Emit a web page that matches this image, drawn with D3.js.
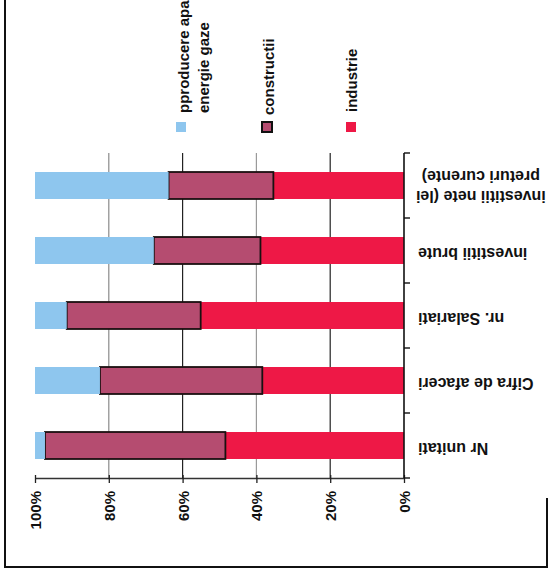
<!DOCTYPE html>
<html>
<head>
<meta charset="utf-8">
<script src="https://cdn.jsdelivr.net/npm/d3@7"></script>
<style>
  html, body { margin: 0; padding: 0; background: #fff; }
  svg { display: block; font-family: "Liberation Sans", Arial, sans-serif; font-weight: bold; }
</style>
</head>
<body>
<svg id="chart" width="553" height="573"></svg>
<script>
// ---- data ----
const categories = ["Nr unitati", "Cifra de afaceri", "nr. Salariati", "investitii brute", "investitii nete (lei|preturi curente)"];
const industrie   = [48.4, 38.4, 55.1, 38.9, 35.4];
const constructii = [48.9, 44.0, 36.3, 28.9, 28.4];
const apaEnergie  = [2.7, 17.6, 8.6, 32.2, 36.2];
const seriesNames = ["industrie", "constructii", "pproducere apa|energie gaze"];
const tickValues  = [0, 20, 40, 60, 80, 100];
const tickLabels  = ["0%", "20%", "40%", "60%", "80%", "100%"];

const colors = { industrie: "#ee1846", constructii: "#b54c70", apa: "#8ec6ee" };

const svg = d3.select("#chart");
svg.append("rect").attr("width", 553).attr("height", 573).attr("fill", "#fff");

// rows of the table for stacking
const rows = categories.map((c, i) => ({
  cat: c, industrie: industrie[i], constructii: constructii[i], apa: apaEnergie[i]
}));
const keys = ["industrie", "constructii", "apa"];
const stacked = d3.stack().keys(keys)(rows);

// value scale: 0% on the right, 100% on the left (rotated chart)
const x = d3.scaleLinear().domain([0, 100]).range([404, 35]);
// category scale: top to bottom is reversed category order
const y = d3.scaleBand().domain(categories.slice().reverse()).range([153, 478])
  .paddingInner(0.585).paddingOuter(0.2925);

// gridlines
const gridColors = { 20: "#222", 40: "#9a9a9a", 60: "#222", 80: "#8a8a8a" };
svg.append("g").selectAll("line").data([20, 40, 60, 80]).join("line")
  .attr("x1", d => x(d)).attr("x2", d => x(d))
  .attr("y1", 153).attr("y2", 478)
  .attr("stroke", d => gridColors[d]).attr("stroke-width", 1.2);

// bars
const bars = svg.append("g");
stacked.forEach(s => {
  bars.append("g").selectAll("rect").data(s).join("rect")
    .attr("x", d => x(d[1]))
    .attr("width", d => x(d[0]) - x(d[1]))
    .attr("y", d => y(d.data.cat))
    .attr("height", y.bandwidth())
    .attr("fill", colors[s.key])
    .attr("stroke", s.key === "constructii" ? "#1a1010" : "none")
    .attr("stroke-width", s.key === "constructii" ? 1.8 : 0);
});

// value axis (bottom)
const xAxis = d3.axisBottom(x).tickValues(tickValues)
  .tickFormat((d, i) => tickLabels[i]).tickSizeInner(5).tickSizeOuter(0);
const gx = svg.append("g").attr("transform", "translate(0,478)").call(xAxis);
gx.select(".domain").attr("stroke", "#333").attr("stroke-width", 1.5);
gx.selectAll(".tick line").attr("y1", -3).attr("y2", 5).attr("stroke", "#222").attr("stroke-width", 1.3);
gx.selectAll(".tick text")
  .attr("transform", "rotate(-90)")
  .attr("x", -13).attr("y", 0).attr("dy", "0.36em")
  .style("text-anchor", "end")
  .style("font-size", "15px").style("font-weight", "bold")
  .style("font-family", "'Liberation Sans', Arial, sans-serif")
  .attr("fill", "#111");

// category axis (right side)
const cAxisX = 404;
svg.append("line").attr("x1", cAxisX).attr("x2", cAxisX)
  .attr("y1", y.range()[0]).attr("y2", y.range()[1])
  .attr("stroke", "#111").attr("stroke-width", 1.6);
const bounds = d3.range(categories.length + 1).map(i => y.range()[0] + i * y.step());
svg.append("g").selectAll("line").data(bounds).join("line")
  .attr("x1", cAxisX).attr("x2", cAxisX + 6)
  .attr("y1", d => d).attr("y2", d => d)
  .attr("stroke", "#111").attr("stroke-width", 1.4);

// category labels (upside-down)
const labG = svg.append("g").style("font-size", "16px").attr("fill", "#111");
categories.forEach(c => {
  const lines = c.split("|");
  const cy = y(c) + y.bandwidth() / 2;
  if (lines.length === 1) {
    labG.append("text")
      .attr("transform", `translate(418,${cy - 3}) rotate(180)`)
      .attr("text-anchor", "end")
      .text(lines[0]);
  } else {
    const g = labG.append("g");
    const t = lines.map((ln, j) => g.append("text")
      .attr("text-anchor", "middle")
      .text(ln));
    const maxW = d3.max(t, tt => tt.node().getComputedTextLength());
    const cx = 416 + maxW / 2;
    t.forEach((tt, j) => {
      tt.attr("transform", `translate(${cx},${cy + 5.5 - j * 20}) rotate(180)`);
    });
  }
});

// legend (rotated -90)
const legendItems = [
  { name: seriesNames[2], color: colors.apa, sx: 181, base: 189, start: 113, border: false },
  { name: seriesNames[1], color: colors.constructii, sx: 267, base: 274, start: 115, border: true },
  { name: seriesNames[0], color: colors.industrie, sx: 351, base: 357, start: 112, border: false }
];
const lg = svg.append("g").style("font-size", "15px").attr("fill", "#111");
legendItems.forEach(it => {
  lg.append("rect")
    .attr("x", it.sx - 5).attr("y", 122).attr("width", 10).attr("height", 10)
    .attr("fill", it.color)
    .attr("stroke", it.border ? "#111" : "none").attr("stroke-width", it.border ? 2 : 0);
  it.name.split("|").forEach((ln, j) => {
    lg.append("text")
      .attr("transform", `translate(${it.base + j * 20},${it.start}) rotate(-90)`)
      .attr("text-anchor", "start")
      .text(ln);
  });
});

// frame of the scanned chart
const frame = svg.append("g").attr("stroke", "#111").attr("stroke-width", 2).attr("fill", "none");
frame.append("line").attr("x1", 5).attr("x2", 5).attr("y1", 0).attr("y2", 567);
frame.append("line").attr("x1", 4).attr("x2", 548).attr("y1", 567).attr("y2", 567);
frame.append("line").attr("x1", 547).attr("x2", 547).attr("y1", 498).attr("y2", 567);
</script>
</body>
</html>
